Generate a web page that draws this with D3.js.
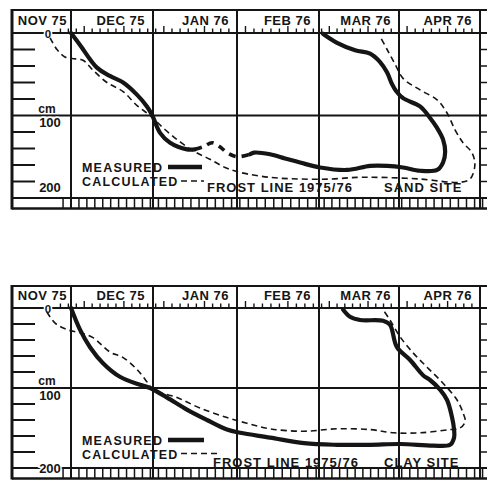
<!DOCTYPE html>
<html><head><meta charset="utf-8">
<script src="https://cdn.jsdelivr.net/npm/d3@7"></script>
<style>
body{margin:0;background:#fff}
svg text{font-family:"Liberation Sans",Arial,Helvetica,sans-serif;font-weight:bold;fill:#151515}
</style></head><body>
<svg id="c" width="487" height="481"></svg>
<script>
// x values: days counted from 1 Dec 1975 (= day 0); y values: frost depth in cm
const monthLabels = ["NOV 75", "DEC 75", "JAN 76", "FEB 76", "MAR 76", "APR 76"];
const monthBounds = [-22.3, 0, 31, 62, 91, 122, 152, 155.5];
const depthTicks = [0, 20, 40, 60, 80, 100, 120, 140, 160, 180, 200];
const depthLabels = [0, 100, 200];
const legendLabels = ["MEASURED", "CALCULATED", "FROST LINE 1975/76"];
const siteLabels = ["SAND SITE", "CLAY SITE"];

// SAND SITE
const sandMeasured1 = [[0,0],[3.4,14.5],[9.8,42],[14.7,52],[19.7,60],[25,75],[28.7,89],[30.6,99],[33.6,121],[37.3,133],[43.5,141],[46.5,141]];
const sandMeasuredGap = [[46.5,141],[49.5,138],[52.8,133],[55.7,138],[58.3,145],[62,150],[66.6,147]];
const sandMeasured2 = [[66.6,147],[68,145],[73.7,147],[79,152],[84.3,157],[91.4,163],[101.9,166],[110.8,161],[117.4,161],[123.5,163],[129.8,167],[136.1,166],[138.3,157],[139.1,144],[138.3,129],[136.1,115],[133.5,103],[129.8,89],[123.5,79],[120.8,70],[119.3,62],[117.4,48],[114.6,35],[110.8,25],[105,21],[98,12],[92.5,1]];
const sandCalculated = [[-7.9,6],[-5.3,20],[-2.3,29],[0.4,31],[4.5,33],[8.3,45],[13.6,60],[19.7,71],[25,88],[29.9,100],[35.4,117],[41,132],[46.5,144],[52,153],[57.6,163],[63.1,169],[73.7,175],[84.3,177],[95.3,177],[105.7,175],[114.6,175],[129.8,177],[144.6,181],[148.3,177],[150.1,160],[149,145],[145.7,133],[142.7,117],[139.8,97],[136.1,81],[129.8,69],[123.5,55],[120.5,38],[117.4,20],[114.6,4]];

// CLAY SITE
const clayMeasured = [[0,0],[3.4,27],[7.2,49],[12.1,69],[18.5,86],[26.1,96],[29.9,100],[36.2,112],[43.5,127],[50.9,140],[58.3,152],[63.1,156],[73.7,162],[85.7,169],[98,171],[110.8,171],[122.4,170],[134.6,172],[140.9,171],[142.4,162],[142.4,152],[141.6,136],[139.8,115],[137.2,102],[133.5,90],[130.9,84],[126.1,65],[121.2,49],[118.5,21],[115.8,16],[106.9,15],[103,11],[100.3,2]];
const clayCalculated = [[-9.1,5],[-6,19],[-1.5,27],[3.4,31],[8.3,37],[14.7,55],[19.7,62],[25,77],[29.1,94],[31,102],[39.9,112],[48.3,125],[58.3,137],[65.5,144],[73.7,151],[85.7,154],[98,151],[110.8,152],[120.1,156],[129.8,156],[140.9,152],[144.6,150],[146.5,142],[145.7,131],[143.5,115],[138.3,94],[132.4,74],[127.2,56],[122.4,36],[118.5,15],[115.8,2]];

const svg = d3.select("#c");
const x = d3.scaleLinear().domain(monthBounds).range([12, 71, 153, 237, 319, 399, 480, 489]);
const ink = "#151515";

function panel(cfg) {
  const g = svg.append("g");
  const y = d3.scaleLinear().domain([0, 200]).range([cfg.y0, cfg.y200]);
  const top = cfg.top, bandB = cfg.y200 + 10.5;

  const hl = (y1, x1, x2, w) => g.append("line").attr("x1", x1).attr("x2", x2).attr("y1", y1).attr("y2", y1).attr("stroke", ink).attr("stroke-width", w);
  hl(top, 12, 487, 2);
  hl(cfg.y0, 12, 487, 2);
  hl(y(100), 12, 487, 2);
  hl(y(200), 12, 487, 1.8);
  hl(bandB, 12, 487, 2.5);

  g.append("line").attr("x1", 12).attr("x2", 12).attr("y1", top - 1).attr("y2", bandB + 1).attr("stroke", ink).attr("stroke-width", 3);
  g.selectAll(".ml").data(monthBounds.slice(1, 7)).join("line")
    .attr("x1", d => x(d)).attr("x2", d => x(d)).attr("y1", top).attr("y2", bandB)
    .attr("stroke", ink).attr("stroke-width", 2);

  const hdays = d3.range(-4, 153, 3);
  g.selectAll(".ht").data(hdays).join("line")
    .attr("x1", d => x(d)).attr("x2", d => x(d))
    .attr("y1", cfg.y0).attr("y2", (d, i) => cfg.y0 - (i % 5 === 3 ? 7 : 4.5))
    .attr("stroke", ink).attr("stroke-width", 1.4);

  const bdays = d3.range(-3, 156, 3);
  g.selectAll(".bt").data(bdays).join("line")
    .attr("x1", d => x(d)).attr("x2", d => x(d))
    .attr("y1", y(200)).attr("y2", bandB)
    .attr("stroke", ink).attr("stroke-width", 1.5);

  const inner = depthTicks.filter(d => d % 100 !== 0);
  g.selectAll(".lt").data(inner).join("line")
    .attr("x1", 12).attr("x2", 35).attr("y1", d => y(d)).attr("y2", d => y(d))
    .attr("stroke", ink).attr("stroke-width", 2);
  g.selectAll(".rt").data(inner).join("line")
    .attr("x1", 480).attr("x2", 487).attr("y1", d => y(d)).attr("y2", d => y(d))
    .attr("stroke", ink).attr("stroke-width", 1.5);

  g.selectAll(".mlab").data(monthLabels).join("text")
    .attr("x", (d, i) => x(monthBounds[i + 1]) - (i === 0 ? 4 : 8))
    .attr("y", top + cfg.mb).attr("text-anchor", "end")
    .attr("font-size", 13).attr("letter-spacing", 0.5).text(d => d);

  g.selectAll(".dlab").data(depthLabels).join("text")
    .attr("x", d => d === 0 ? 48 : 50)
    .attr("y", d => d === 0 ? y(0) + 5 : d === 100 ? y(100) + 11.5 : y(200) + cfg.d200)
    .attr("text-anchor", "middle").attr("font-size", d => d === 0 ? 11.5 : 13)
    .attr("stroke", "#fff").attr("stroke-width", 3).attr("paint-order", "stroke")
    .text(d => d);
  g.append("text").attr("x", 47).attr("y", y(100) - 3).attr("text-anchor", "middle")
    .attr("font-size", 12).text("cm");

  const line = d3.line().x(d => x(d[0])).y(d => y(d[1])).curve(d3.curveCatmullRom.alpha(0.5));
  cfg.calc.forEach(s => g.append("path").attr("d", line(s)).attr("fill", "none")
    .attr("stroke", ink).attr("stroke-width", 1.6).attr("stroke-dasharray", "6,4"));
  cfg.meas.forEach(s => g.append("path").attr("d", line(s)).attr("fill", "none")
    .attr("stroke", ink).attr("stroke-width", 4.2).attr("stroke-linecap", "round").attr("stroke-linejoin", "round"));
  cfg.gap.forEach(s => g.append("path").attr("d", line(s)).attr("fill", "none")
    .attr("stroke", ink).attr("stroke-width", 3.6).attr("stroke-dasharray", "7,6"));

  const txt = (t, x1, y1, fs, ls) => g.append("text").attr("x", x1).attr("y", y1)
    .attr("font-size", fs).attr("letter-spacing", ls).text(t);
  txt(legendLabels[0], 82, top + cfg.lm, 12.5, 1.2);
  txt(legendLabels[1], 82, top + cfg.lc, 12.5, 1.2);
  txt(legendLabels[2], cfg.fx, top + cfg.lf, 13, 1);
  txt(cfg.site, 384, top + cfg.lf, 13, 1);
  g.append("line").attr("x1", 168).attr("x2", cfg.mx2).attr("y1", top + cfg.lm - 4.5).attr("y2", top + cfg.lm - 4.5)
    .attr("stroke", ink).attr("stroke-width", 4.5);
  g.append("line").attr("x1", 181).attr("x2", cfg.cx2).attr("y1", top + cfg.lc - 5).attr("y2", top + cfg.lc - 5)
    .attr("stroke", ink).attr("stroke-width", 1.6).attr("stroke-dasharray", "6,4");
}

panel({ top: 10, y0: 33, y200: 198, mb: 15, d200: -6, lm: 161.5, lc: 176, lf: 182, fx: 207, mx2: 202, cx2: 204, site: siteLabels[0],
  meas: [sandMeasured1, sandMeasured2], gap: [sandMeasuredGap], calc: [sandCalculated] });
panel({ top: 286, y0: 308, y200: 468, mb: 13.5, d200: 5, lm: 158.5, lc: 172.5, lf: 181, fx: 213, mx2: 204, cx2: 221, site: siteLabels[1],
  meas: [clayMeasured], gap: [], calc: [clayCalculated] });
</script>
</body></html>
